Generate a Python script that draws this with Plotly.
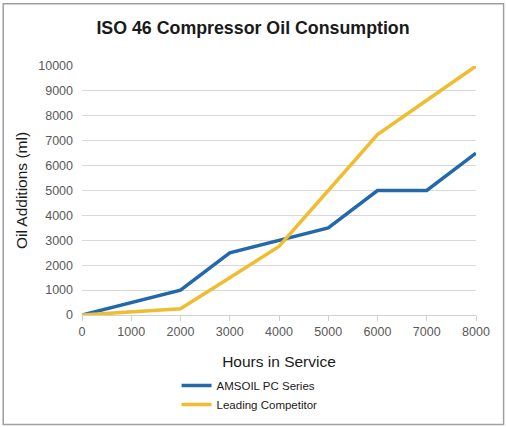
import plotly.graph_objects as go

hours = [0, 1000, 2000, 3000, 4000, 5000, 6000, 7000, 8000]
amsoil = [0, 500, 1000, 2500, 3000, 3500, 5000, 5000, 6500]
competitor = [0, 125, 250, 1500, 2750, 5000, 7250, 8625, 10000]
x_ticks = [0, 1000, 2000, 3000, 4000, 5000, 6000, 7000, 8000]
y_ticks = [0, 1000, 2000, 3000, 4000, 5000, 6000, 7000, 8000, 9000, 10000]
y_labels = [str(v) for v in y_ticks]

fig = go.Figure()
fig.add_trace(go.Scatter(x=hours, y=amsoil, mode="lines", name="AMSOIL PC Series",
                         line=dict(color="#2468AC", width=3.5)))
fig.add_trace(go.Scatter(x=hours, y=competitor, mode="lines", name="Leading Competitor",
                         line=dict(color="#F0BD30", width=3.5)))

fig.update_layout(
    width=506, height=427,
    margin=dict(l=82, r=30, t=66, b=112, autoexpand=False),
    paper_bgcolor="white", plot_bgcolor="white",
    font=dict(family="Liberation Sans, Arial, sans-serif", color="#595959", size=12),
    title=dict(text="<b>ISO 46 Compressor Oil Consumption</b>", x=0.5, xanchor="center",
               y=0.935, yanchor="middle", font=dict(size=17.8, color="#1a1a1a")),
    showlegend=True,
    legend=dict(x=0.24, xanchor="left", y=-0.225, yanchor="top",
                font=dict(size=11.5, color="#1a1a1a"), bgcolor="rgba(0,0,0,0)",
                tracegroupgap=0, itemwidth=30),
    xaxis=dict(range=[0, 8000], tickvals=x_ticks, showgrid=False, zeroline=False,
               showline=True, linecolor="#d0d0d0", linewidth=1, automargin=False,
               ticks="outside", ticklen=5, tickcolor="#d0d0d0",
               tickfont=dict(size=12.5, color="#595959"),
               title=dict(text="Hours in Service", font=dict(size=15.5, color="#1a1a1a"), standoff=18)),
    yaxis=dict(range=[0, 10000], tickvals=y_ticks, ticktext=y_labels, showgrid=True, gridcolor="#d9d9d9",
               zeroline=False, showline=False, ticks="", ticklabelstandoff=8, automargin=False,
               tickfont=dict(size=12.5, color="#595959"),
               title=dict(text="Oil Additions (ml)", font=dict(size=15.5, color="#1a1a1a"), standoff=6)),
)
fig.add_shape(type="rect", xref="paper", yref="paper", x0=-0.2, x1=1.07, y0=-0.44, y1=1.25,
              line=dict(color="#a0a0a0", width=1.5), layer="below")
fig.update_traces(cliponaxis=False)
fig.write_html("out.html", config={"displayModeBar": False},
               post_script="document.body.style.margin='0';")
